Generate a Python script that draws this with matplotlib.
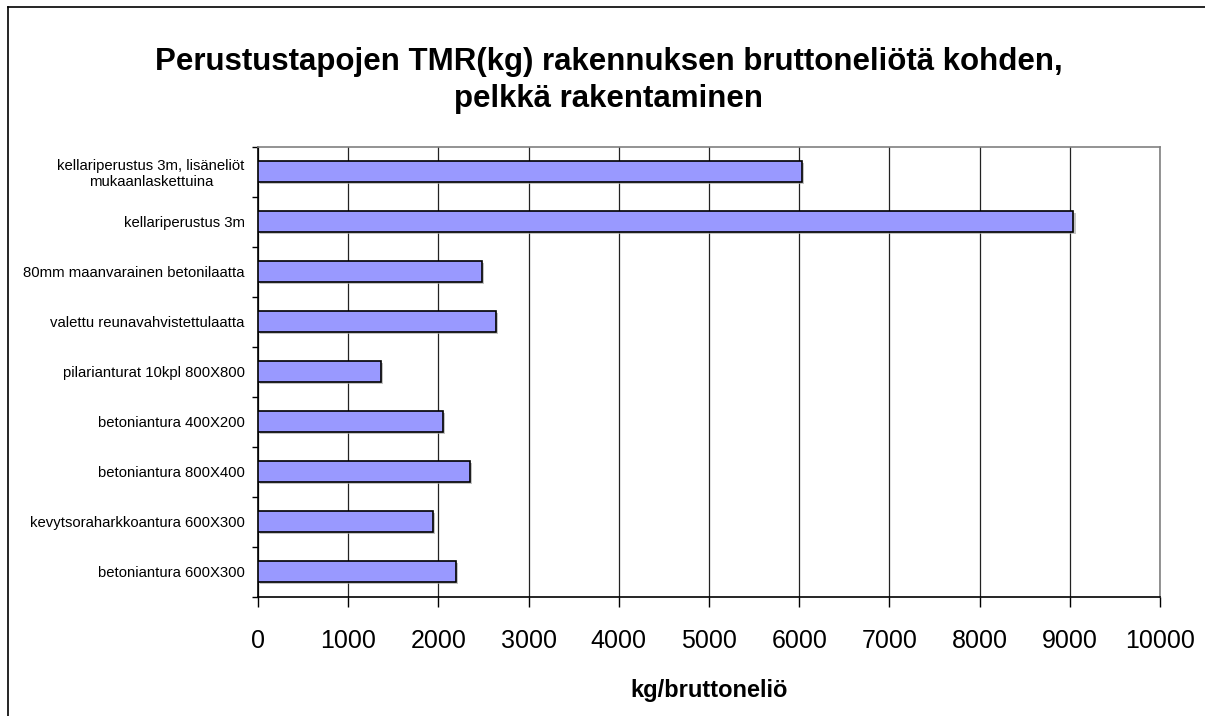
import matplotlib as mpl
mpl.use('Agg')
import matplotlib.pyplot as plt
import matplotlib.patheffects as pe
import numpy as np

plt.rcParams['font.family'] = ['Liberation Sans', 'DejaVu Sans']

# categories from bottom to top (Excel order)
categories = ['betoniantura 600X300',
              'kevytsoraharkkoantura 600X300',
              'betoniantura 800X400',
              'betoniantura 400X200',
              'pilarianturat 10kpl 800X800',
              'valettu reunavahvistettulaatta',
              '80mm maanvarainen betonilaatta',
              'kellariperustus 3m',
              'kellariperustus 3m, lisäneliöt\nmukaanlaskettuina']
tmr_kg = [2190, 1935, 2350, 2055, 1360, 2640, 2485, 9040, 6030]
xticks = [0, 1000, 2000, 3000, 4000, 5000, 6000, 7000, 8000, 9000, 10000]

title = 'Perustustapojen TMR(kg) rakennuksen bruttoneliötä kohden,\npelkkä rakentaminen'
xlabel = 'kg/bruttoneliö'

fig = plt.figure(figsize=(12.05, 7.16), dpi=100)
ax = fig.add_axes([0.2141, 0.1666, 0.7486, 0.6285])

pos = np.arange(len(categories))
bars = ax.barh(pos, tmr_kg, height=0.42, color='#9999FF', edgecolor='black',
               linewidth=1.2, zorder=3)
for b in bars:
    b.set_path_effects([pe.SimplePatchShadow(offset=(1.5, -1.5), shadow_rgbFace='#aaaaaa', alpha=0.7),
                        pe.Normal()])

ax.set_xlim(0, 10000)
ax.set_ylim(-0.5, len(categories) - 0.5)
ax.set_xticks(xticks)
ax.set_xticklabels([str(v) for v in xticks], fontsize=18)
ax.set_yticks(pos)
ax.set_yticklabels(categories, fontsize=10.7, multialignment='center')
ax.set_yticks(np.arange(len(categories) + 1) - 0.5, minor=True)
ax.tick_params(axis='y', which='major', length=0, pad=9.5)
ax.tick_params(axis='y', which='minor', length=4, width=1, direction='out')
ax.tick_params(axis='x', which='major', length=7, width=1, direction='out', pad=16)

ax.xaxis.grid(True, color='#222222', linewidth=0.9, zorder=0)
ax.set_axisbelow(True)
ax.spines['left'].set_color('black')
ax.spines['bottom'].set_color('black')
ax.spines['top'].set_color('#808080')
ax.spines['right'].set_color('#808080')
for s in ax.spines.values():
    s.set_linewidth(1.2)

fig.text(0.505, 0.888, title, ha='center', va='center', fontsize=22.5,
         fontweight='bold', linespacing=1.3)
fig.text(0.5885, 0.036, xlabel, ha='center', va='center', fontsize=17,
         fontweight='bold')

# chart frame (top and left edges visible)
fig.add_artist(plt.Line2D([0.0066, 1.0], [0.990, 0.990], color='black', linewidth=1.2))
fig.add_artist(plt.Line2D([0.0066, 0.0066], [0.0, 0.990], color='black', linewidth=1.2))

fig.savefig('out.png', dpi=100)
